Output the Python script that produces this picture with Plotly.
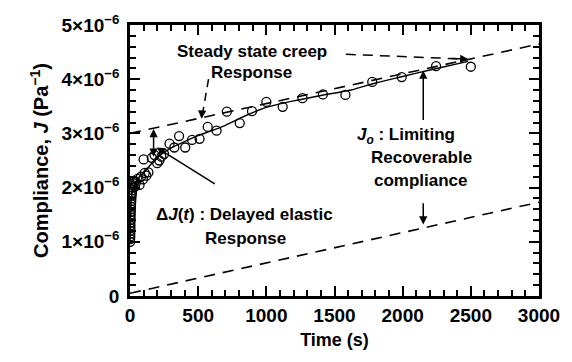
import plotly.graph_objects as go

# ---- data ----
time_pts = [1, 1, 2, 2, 2, 3, 3, 3, 4, 4, 5, 5, 6, 7, 8, 9, 10, 12, 14, 16, 18, 22, 26, 30,
            36, 45, 55, 70, 80, 95, 108, 120, 135, 100, 160, 180, 200, 215, 230, 250,
            290, 325, 360, 405, 455, 510, 570, 635, 710, 805, 895, 1000, 1120, 1265,
            1415, 1580, 1777, 1993, 2245, 2500]
comp_pts = [1.00, 1.05, 1.10, 1.15, 1.20, 1.25, 1.30, 1.35, 1.40, 1.45, 1.50, 1.55, 1.60,
            1.65, 1.70, 1.75, 1.80, 1.85, 1.90, 1.95, 2.00, 2.04, 2.08, 2.12,
            2.02, 2.10, 2.16, 2.05, 2.20, 2.15, 2.27, 2.22, 2.28, 2.52, 2.55, 2.60,
            2.45, 2.50, 2.57, 2.62, 2.81, 2.74, 2.95, 2.74, 2.88, 2.90, 3.12, 3.05,
            3.40, 3.19, 3.41, 3.58, 3.49, 3.65, 3.72, 3.71, 3.95, 4.04, 4.24, 4.23]

fit_t = [0, 5, 10, 20, 40, 70, 110, 160, 220, 300, 400, 500, 600, 700, 850, 1000,
         1200, 1400, 1620, 1800, 2000, 2200, 2480]
fit_j = [1.0, 1.55, 1.80, 1.98, 2.10, 2.20, 2.30, 2.45, 2.60, 2.73, 2.85, 2.96, 3.05,
         3.15, 3.33, 3.48, 3.60, 3.70, 3.80, 3.93, 4.05, 4.17, 4.33]

steady_t = [0, 3000]
steady_j = [3.00, 4.65]
recov_t = [0, 3000]
recov_j = [0.05, 1.73]

y_tickvals = [0, 1, 2, 3, 4, 5]
y_ticktext = ["0", "1×10<sup>−6</sup>", "2×10<sup>−6</sup>", "3×10<sup>−6</sup>",
              "4×10<sup>−6</sup>", "5×10<sup>−6</sup>"]
x_tickvals = [0, 500, 1000, 1500, 2000, 2500, 3000]

SC = 1e-6
FONT = "Liberation Sans, Arial, sans-serif"

fig = go.Figure()
fig.add_trace(go.Scatter(x=steady_t, y=[v * SC for v in steady_j], mode="lines",
                         line=dict(color="black", width=1.6, dash="11px,8px"),
                         showlegend=False, hoverinfo="skip"))
fig.add_trace(go.Scatter(x=recov_t, y=[v * SC for v in recov_j], mode="lines",
                         line=dict(color="black", width=1.6, dash="11px,8px"),
                         showlegend=False, hoverinfo="skip"))
fig.add_trace(go.Scatter(x=fit_t, y=[v * SC for v in fit_j], mode="lines",
                         line=dict(color="black", width=1.4, shape="spline", smoothing=0.6),
                         showlegend=False))
fig.add_trace(go.Scatter(x=time_pts, y=[v * SC for v in comp_pts], mode="markers",
                         marker=dict(symbol="circle-open", size=9, color="black",
                                     line=dict(width=1.3, color="black")),
                         showlegend=False))

# dashed leader lines
fig.add_shape(type="line", x0=1583, y0=4.46 * SC, x1=2470, y1=4.37 * SC,
              line=dict(color="black", width=1.5, dash="10px,7px"))
fig.add_shape(type="line", x0=576, y0=4.00 * SC, x1=530, y1=3.33 * SC,
              line=dict(color="black", width=1.5, dash="8px,6px"))

arrows = [
    # (head_x, head_y, tail_x, tail_y, side)
    (2482, 4.37, 2350, 4.385, "end"),
    (525, 3.27, 530, 3.45, "end"),
    (195, 2.74, 633, 2.05, "end"),
    (173, 3.08, 173, 2.54, "end+start"),
    (2151, 4.16, 2151, 3.22, "end"),
    (2151, 1.32, 2151, 1.74, "end"),
]
for hx, hy, tx, ty, side in arrows:
    fig.add_annotation(x=hx, y=hy * SC, ax=tx, ay=ty * SC, xref="x", yref="y",
                       axref="x", ayref="y", text="", showarrow=True,
                       arrowhead=2, arrowsize=1.1, arrowwidth=1.5, arrowcolor="black",
                       arrowside=side, startarrowhead=2, startarrowsize=1.1)

texts = [
    (892, 4.51, "Steady state creep"),
    (892, 4.13, "Response"),
    (842, 1.50, "Δ<i>J</i>(<i>t</i>) : Delayed elastic"),
    (849, 1.07, "Response"),
    (2022, 2.95, "<i>J<sub>o</sub></i> : Limiting"),
    (2137, 2.55, "Recoverable"),
    (2137, 2.14, "compliance"),
]
for tx, ty, s in texts:
    fig.add_annotation(x=tx, y=ty * SC, xref="x", yref="y", text=s, showarrow=False,
                       font=dict(family=FONT, size=17, color="black", weight="bold"),
                       xanchor="center", yanchor="middle")

axis_common = dict(showline=True, linecolor="black", linewidth=2.5, mirror="ticks",
                   ticks="inside", ticklen=10, tickwidth=2, tickcolor="black",
                   showgrid=False, zeroline=False,
                   tickfont=dict(family=FONT, size=19, color="black", weight="bold"))

fig.update_xaxes(range=[0, 3000], tickvals=x_tickvals,
                 minor=dict(dtick=100, ticks="inside", ticklen=6, tickwidth=1.5,
                            tickcolor="black"),
                 title=dict(text="Time (s)", standoff=9,
                            font=dict(family=FONT, size=18, color="black", weight="bold")),
                 **axis_common)
fig.update_yaxes(range=[0, 5 * SC], tickvals=[v * SC for v in y_tickvals],
                 ticktext=y_ticktext, ticklabelstandoff=4,
                 minor=dict(dtick=0.2 * SC, ticks="inside", ticklen=6, tickwidth=1.5,
                            tickcolor="black"),
                 title=dict(text="Compliance, <i>J</i> (Pa<sup>−1</sup>)", standoff=8,
                            font=dict(family=FONT, size=20, color="black", weight="bold")),
                 **axis_common)

fig.update_layout(width=572, height=362, margin=dict(l=130, r=25, t=20, b=66),
                  plot_bgcolor="white", paper_bgcolor="white",
                  font=dict(family=FONT, color="black"))

fig.write_html("out.html")
